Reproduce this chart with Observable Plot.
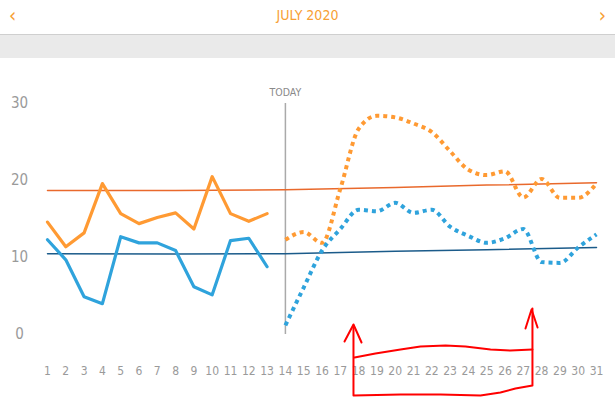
<!DOCTYPE html>
<html>
<head>
<meta charset="utf-8">
<script src="https://cdn.jsdelivr.net/npm/d3@7"></script>
<script src="https://cdn.jsdelivr.net/npm/@observablehq/plot@0.6"></script>
<style>
  html, body { margin: 0; padding: 0; background: #fff; }
  body { width: 615px; height: 397px; overflow: hidden; font-family: "Liberation Sans Narrow", "DejaVu Sans Condensed", sans-serif; }
  #header { position: relative; height: 34px; border-bottom: 1px solid #cfcfcf; }
  #header .t { position: absolute; left: 0; right: 0; top: 7px; text-align: center; color: #f7a035; font-size: 14px; }
  #header .l, #header .r { position: absolute; top: 3px; color: #f7a035; font-size: 20px; }
  #header .l { left: 9px; } #header .r { right: 9px; }
  #band { height: 23px; background: #eaeaea; }
  svg { display: block; }
</style>
</head>
<body>
<div id="header"><span class="l">&lsaquo;</span><div class="t">JULY 2020</div><span class="r">&rsaquo;</span></div>
<div id="band"></div>
<div id="chart"></div>
<script>
// Observed days (1..13)
const pastDays = [1,2,3,4,5,6,7,8,9,10,11,12,13];
const pastOrange = [14.6,11.4,13.2,19.6,15.7,14.4,15.2,15.8,13.7,20.5,15.7,14.7,15.7];
const pastBlue   = [12.3,9.7,4.9,4.0,12.7,11.9,11.9,10.9,6.2,5.15,12.2,12.5,8.8];
// Forecast days (14..31)
const futureDays = [14,15,16,17,18,19,20,21,22,23,24,25,26,27,28,29,30,31];
const futureOrange = [12.3,13.3,11.9,18.9,26.7,28.4,28.2,27.4,26.3,23.8,21.4,20.7,21.2,17.8,20.2,17.75,17.75,19.6];
const futureBlue   = [1.2,6.1,10.9,13.7,16.2,16.0,17.1,15.8,16.2,14.0,12.8,11.9,12.5,13.7,9.4,9.3,11.3,13.0];
// Average lines
const avgDays = [1,8,14,20,25,31];
const avgOrange = [18.7,18.7,18.8,19.1,19.4,19.7];
const avgBlue   = [10.5,10.45,10.5,10.8,11.0,11.3];
const today = 14;
const dayTicks = [1,2,3,4,5,6,7,8,9,10,11,12,13,14,15,16,17,18,19,20,21,22,23,24,25,26,27,28,29,30,31];
const yTicks = [0,10,20,30];
// Hand-drawn red annotation (in day / value units)
const annBoxDays   = [17.72,17.72,20.29,22.48,24.66,25.75,26.57,27.5,27.5];
const annBoxVals   = [1.17,-7.92,-7.79,-7.79,-7.92,-7.53,-7.01,-6.62,3.38];
const annTopDays   = [17.78,18.92,20.29,21.38,22.75,23.84,25.21,26.3,27.5];
const annTopVals   = [-2.99,-2.47,-1.95,-1.56,-1.43,-1.56,-1.95,-2.08,-1.95];
const annHeadLDays = [17.23,17.72,18.16];
const annHeadLVals = [-0.91,1.3,-1.04];
const annHeadRDays = [27.12,27.45,27.78];
const annHeadRVals = [0.78,3.25,0.91];

const toRows = (xs, ys, k) => xs.map((x, i) => ({x, y: ys[i], k}));
const past = [...toRows(pastDays, pastOrange, "o"), ...toRows(pastDays, pastBlue, "b")];
const future = [...toRows(futureDays, futureOrange, "o"), ...toRows(futureDays, futureBlue, "b")];
const avg = [...toRows(avgDays, avgOrange, "o"), ...toRows(avgDays, avgBlue, "b")];
const ann = [
  ...toRows(annBoxDays, annBoxVals, "box"),
  ...toRows(annTopDays, annTopVals, "top"),
  ...toRows(annHeadLDays, annHeadLVals, "hl"),
  ...toRows(annHeadRDays, annHeadRVals, "hr")
];
const main = {o: "#ff9a33", b: "#2fa3dc"};
const avgC = {o: "#e9692c", b: "#1b5b8a"};

const chart = Plot.plot({
  width: 615,
  height: 339,
  marginLeft: 47,
  marginRight: 19,
  marginTop: 45,
  marginBottom: 63,
  style: {fontFamily: "'Liberation Sans Narrow', 'DejaVu Sans Condensed', sans-serif", background: "transparent", overflow: "visible"},
  x: {domain: [1, 31]},
  y: {domain: [0, 30]},
  marks: [
    Plot.axisY({ticks: yTicks, tickSize: 0, tickPadding: 28, textAnchor: "middle", fontSize: 15, fill: "#9a9a9a", label: null}),
    Plot.axisX({ticks: dayTicks, tickSize: 0, tickPadding: 32, fontSize: 12, fill: "#9a9a9a", label: null, tickFormat: d => String(d)}),
    Plot.ruleX([today], {y1: 0, y2: 30, stroke: "#aaaaaa", strokeWidth: 1.5}),
    Plot.text(["TODAY"], {x: [today], frameAnchor: "top", dy: -15, fill: "#8a8a8a", fontSize: 10.5}),
    Plot.line(avg, {x: "x", y: "y", z: "k", stroke: d => avgC[d.k], strokeWidth: 1.5}),
    Plot.line(past, {x: "x", y: "y", z: "k", stroke: d => main[d.k], strokeWidth: 3.2}),
    Plot.line(future, {x: "x", y: "y", z: "k", stroke: d => main[d.k], strokeWidth: 4, strokeDasharray: "4,4", strokeLinecap: "butt", strokeLinejoin: "miter", curve: "monotone-x"}),
    Plot.line(ann, {x: "x", y: "y", z: "k", stroke: "#ff0000", strokeWidth: 2, clip: false})
  ]
});
document.getElementById("chart").appendChild(chart);
</script>
</body>
</html>
